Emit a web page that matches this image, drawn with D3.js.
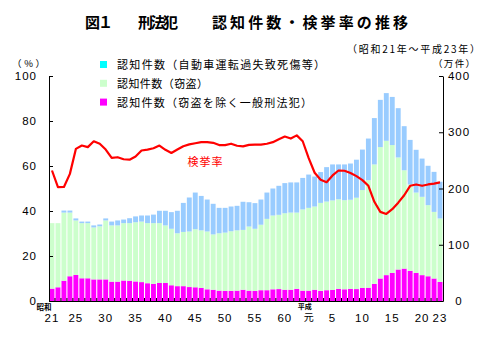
<!DOCTYPE html>
<html>
<head>
<meta charset="utf-8">
<script src="https://cdn.jsdelivr.net/npm/d3@7"></script>
<style>
  html, body { margin: 0; padding: 0; background: #fff; }
  svg { display: block; }
  .num { font-family: "Liberation Sans", Arial, sans-serif; font-size: 11.5px; letter-spacing: 1px; fill: #000; }
  .jp { font-family: "Noto Sans CJK JP", sans-serif; fill: #000; }
</style>
</head>
<body>
<svg id="chart" width="500" height="339"></svg>
<script>
// 年（昭和21年～平成23年）
const years = d3.range(1946, 2012);

// 認知件数（窃盗を除く一般刑法犯）, 万件
const otherCrimes = [22, 24.4, 36, 44, 46.4, 40.4, 40.4, 38.4, 38.4, 38.4,
  34.4, 34.4, 36.4, 36, 34.8, 33.6, 31.6, 30.4, 32, 32,
  28, 26.4, 26.4, 24.8, 24.4, 23.2, 20.8, 20, 18.4, 18,
  18, 18.4, 20, 18.4, 18, 19.2, 19.2, 20.8, 21.2, 20,
  20, 21.6, 18.4, 18.4, 20, 18, 19.2, 19.6, 21.6, 20.8,
  21.6, 21.2, 23.2, 23.6, 30.4, 40, 46, 50, 56, 57.6,
  53.6, 50, 46, 44, 40, 34];

// 認知件数（窃盗）, 万件
const theft = [116.4, 114, 121.2, 113.2, 96.8, 98, 98, 92.4, 94.4, 104.8,
  100, 100, 102, 102.4, 105.2, 107.6, 106.8, 108, 106.4, 102.4,
  100.4, 94, 96.4, 98.8, 103.2, 102.4, 102.8, 98.4, 102, 103.6,
  106, 107.2, 106.4, 114, 110.4, 116.4, 126.8, 131.2, 132, 136,
  137.2, 135.6, 144.4, 147.2, 148, 156.4, 157.6, 159.2, 159.2, 158.4,
  158.4, 162.4, 174, 191.2, 212.4, 233.6, 238.8, 227.2, 199.2, 174.8,
  153.6, 142.8, 139.2, 126.4, 118.4, 112.8];

// 認知件数（自動車運転過失致死傷等）, 万件
const traffic = [0, 0, 3.6, 3.6, 3.6, 2.8, 2.8, 3.6, 3.2, 3.6,
  6.8, 8.8, 6.4, 8.8, 10.4, 10.8, 13.6, 15.2, 22, 26,
  29.6, 40, 51.6, 60.4, 65.2, 61.2, 56.8, 54.4, 45.2, 44,
  44, 43.6, 50, 43.2, 45.6, 44.8, 46.8, 48, 51.6, 53.6,
  53.6, 53.6, 56, 59.2, 53.2, 54.8, 61.2, 64, 62, 63.6,
  64.4, 67.6, 72, 74, 82.4, 84, 84.8, 85.6, 87.6, 78.4,
  79.2, 76, 68, 70, 71.2, 65.2];

// 検挙率, %
const clearanceRate = [58.0, 50.6, 50.7, 56.5, 67.6, 69.1, 68.4, 71.0, 69.9, 67.3,
  63.6, 63.9, 63.0, 62.8, 64.2, 66.9, 67.3, 67.9, 69.1, 67.2,
  65.8, 67.3, 68.8, 69.6, 70.1, 70.6, 70.6, 70.3, 69.3, 69.3,
  69.9, 69.0, 68.7, 69.4, 69.5, 69.5, 69.9, 70.6, 71.9, 73.1,
  72.2, 73.6, 71.0, 63.5, 57.0, 53.9, 52.8, 55.8, 58.0, 57.9,
  56.9, 55.5, 53.7, 51.2, 44.1, 39.6, 38.7, 40.8, 43.7, 47.0,
  51.2, 51.8, 51.2, 51.8, 52.2, 52.7];

// x軸の目盛（年の位置と表示）
const tickYears = [1946, 1950, 1955, 1960, 1965, 1970, 1975, 1980, 1985, 1989, 1993, 1998, 2003, 2008, 2011];
const tickLabels = ["21", "25", "30", "35", "40", "45", "50", "55", "60", "元", "5", "10", "15", "20", "23"];

const leftTicks = [0, 20, 40, 60, 80, 100];
const rightTicks = [0, 100, 200, 300, 400];

const seriesKeys = ["other", "theft", "traffic"];
const seriesColors = { other: "#FF00FF", theft: "#CCFFCC", traffic: "#99CCFF" };
const legendItems = [
  { label: "認知件数（自動車運転過失致死傷等）", color: "#00FFFF", len: 208 },
  { label: "認知件数（窃盗）", color: "#CCFFCC", len: 91 },
  { label: "認知件数（窃盗を除く一般刑法犯）", color: "#FF00FF", len: 195 }
];

const table = years.map((y, i) => ({ year: y, other: otherCrimes[i], theft: theft[i], traffic: traffic[i], rate: clearanceRate[i] }));

const svg = d3.select("#chart");
const L = 49, R = 443, T = 76, B = 301;

const x = d3.scaleBand().domain(years).range([L, R]).paddingInner(0.18).paddingOuter(0.09);
const yCount = d3.scaleLinear().domain([0, 400]).range([B, T]);
const yRate = d3.scaleLinear().domain([0, 100]).range([B, T]);

// 積み上げ棒
const stacked = d3.stack().keys(seriesKeys)(table);
svg.append("g").selectAll("g").data(stacked).join("g")
  .attr("fill", d => seriesColors[d.key])
  .selectAll("rect").data(d => d).join("rect")
  .attr("x", d => x(d.data.year))
  .attr("width", x.bandwidth())
  .attr("y", d => yCount(d[1]))
  .attr("height", d => Math.max(0, yCount(d[0]) - yCount(d[1])));

// 軸
const leftAxis = d3.axisLeft(yRate).tickValues(leftTicks).tickSize(-4).tickSizeOuter(0).tickPadding(12);
const gL = svg.append("g").attr("transform", `translate(${L},0)`).call(leftAxis);
gL.selectAll("text").attr("class", "num");

const rightAxis = d3.axisRight(yCount).tickValues(rightTicks).tickSize(-4).tickSizeOuter(0).tickPadding(16);
const gR = svg.append("g").attr("transform", `translate(${R},0)`).call(rightAxis);
gR.selectAll("text").attr("class", "num").attr("text-anchor", "middle").attr("x", 16);

const bottomAxis = d3.axisBottom(x).tickValues(tickYears)
  .tickFormat(d => tickLabels[tickYears.indexOf(d)]).tickSize(0).tickSizeOuter(0).tickPadding(13);
const gB = svg.append("g").attr("transform", `translate(0,${B})`).call(bottomAxis);
gB.selectAll("text").attr("class", "num");
gB.selectAll("text").filter(d => d === 1989).attr("class", "jp").style("font-size", "10px").attr("dy", "0.74em");
[gL, gR, gB].forEach(g => g.selectAll("path, line").attr("stroke", "#000"));

// 年ごとの小目盛
svg.append("g").selectAll("line").data(years.slice(1)).join("line")
  .attr("x1", d => x(d) - x.step() * x.paddingInner() / 2)
  .attr("x2", d => x(d) - x.step() * x.paddingInner() / 2)
  .attr("y1", B).attr("y2", B - 3)
  .attr("stroke", "#000").attr("stroke-width", 1);

// 元号
svg.append("text").attr("class", "jp").attr("x", 44).attr("y", 309.5)
  .attr("text-anchor", "middle").style("font-size", "7.5px").style("font-weight", "bold").text("昭和");
svg.append("text").attr("class", "jp").attr("x", x(1989) + x.bandwidth() / 2 - 4).attr("y", 309)
  .attr("text-anchor", "middle").style("font-size", "7px").style("font-weight", "bold").text("平成");

// 検挙率の折れ線
const line = d3.line().x(d => x(d.year) + x.bandwidth() / 2).y(d => yRate(d.rate));
svg.append("path").datum(table).attr("d", line)
  .attr("fill", "none").attr("stroke", "#FF0000").attr("stroke-width", 2.2).attr("stroke-linejoin", "round");
svg.append("text").attr("class", "jp").attr("x", 205).attr("y", 166)
  .attr("text-anchor", "middle").style("font-size", "11px").style("fill", "#FF0000")
  .attr("textLength", 35).text("検挙率");

// 表題
const title = svg.append("g").attr("class", "jp").style("font-weight", "bold").style("font-size", "15px");
title.append("text").attr("x", 85).attr("y", 28).attr("textLength", 28).text("図１");
title.append("text").attr("x", 138).attr("y", 28).attr("textLength", 40).text("刑法犯");
title.append("text").attr("x", 212).attr("y", 28).attr("textLength", 196).text("認知件数・検挙率の推移");

svg.append("text").attr("class", "jp").attr("x", 347).attr("y", 53).style("font-size", "10px")
  .attr("textLength", 133).text("（昭和21年～平成23年）");
svg.append("text").attr("class", "jp").attr("x", 12).attr("y", 67).style("font-size", "9.5px")
  .attr("textLength", 33).text("（%）");
svg.append("text").attr("class", "jp").attr("x", 433).attr("y", 67).style("font-size", "9.5px")
  .attr("textLength", 42).text("（万件）");

// 凡例
const legend = svg.append("g").selectAll("g").data(legendItems).join("g")
  .attr("transform", (d, i) => `translate(100,${65 + i * 18.8})`);
legend.append("rect").attr("x", 0).attr("y", -4).attr("width", 7).attr("height", 7).attr("fill", d => d.color);
legend.append("text").attr("class", "jp").attr("x", 17).attr("y", 4).style("font-size", "11px")
  .attr("textLength", d => d.len).text(d => d.label);
</script>
</body>
</html>
